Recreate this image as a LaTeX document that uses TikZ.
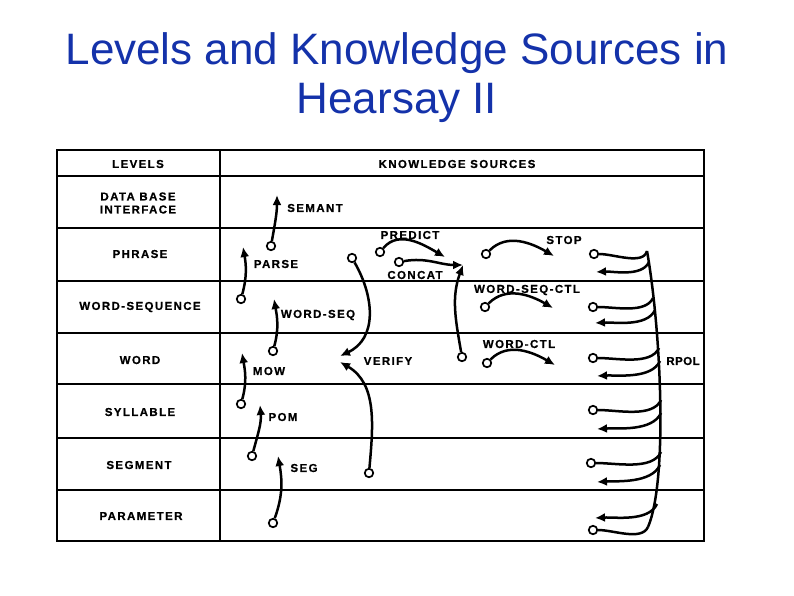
\documentclass[tikz,border=0pt]{standalone}
\usepackage{fontspec}
\usetikzlibrary{arrows.meta}
\newfontfamily\titlefont{Liberation Sans}
\newfontfamily\hsfont[LetterSpace=12, BoldFeatures={FakeBold=0.6}]{Liberation Sans}
\newfontfamily\hstight[LetterSpace=4, BoldFeatures={FakeBold=0.6}]{Liberation Sans}
\definecolor{titleblue}{RGB}{20,50,170}

\begin{document}
\begin{tikzpicture}[
  x=1pt, y=-1pt,
  >={Latex[length=10pt,width=9pt]},
  titletext/.style={font=\titlefont\fontsize{44}{50}\selectfont, text=titleblue, inner sep=0pt},
  hslabel/.style={font=\hsfont\bfseries\fontsize{11.5}{13}\selectfont, inner sep=1pt},
  ksmap/.style={->, draw=black, line width=2.5pt},
  rpline/.style={draw=black, line width=2.5pt},
  ksfoot/.style={circle, draw=black, fill=white, line width=1.7pt, minimum size=8.5pt, inner sep=0pt},
  gridline/.style={draw=black, line width=2.2pt}
]
  \useasboundingbox (0,0) rectangle (794,595);

  % title
  \node[titletext, anchor=base] (title1) at (397,64) {Levels and Knowledge Sources in};
  \node[titletext, anchor=base] (title2) at (397,113) {Hearsay II};

  % table
  \draw[gridline] (57,150) rectangle (704,541);
  \draw[gridline] (220,150) -- (220,541);
  \draw[gridline] (57,176) -- (704,176);
  \draw[gridline] (57,228) -- (704,228);
  \draw[gridline] (57,281) -- (704,281);
  \draw[gridline] (57,333) -- (704,333);
  \draw[gridline] (57,384) -- (704,384);
  \draw[gridline] (57,438) -- (704,438);
  \draw[gridline] (57,490) -- (704,490);

  % levels
  \node[hslabel] (lvHead) at (138,164) {LEVELS};
  \node[hslabel, align=center] (lvDbase) at (138,203) {DATA BASE\\INTERFACE};
  \node[hslabel] (lvPhrase) at (140,254) {PHRASE};
  \node[hslabel] (lvWseq) at (140,307) {WORD-SEQUENCE};
  \node[hslabel] (lvWord) at (140,360) {WORD};
  \node[hslabel] (lvSyl) at (140,412) {SYLLABLE};
  \node[hslabel] (lvSeg) at (139,465) {SEGMENT};
  \node[hslabel] (lvParam) at (141,516) {PARAMETER};

  % knowledge source names
  \node[hslabel] (ksHead) at (457,164) {KNOWLEDGE SOURCES};
  \node[hslabel] (ksSemant) at (315,208) {SEMANT};
  \node[hslabel] (ksParse) at (276,264) {PARSE};
  \node[hslabel] (ksWseq) at (318,315) {WORD-SEQ};
  \node[hslabel] (ksMow) at (269,371) {MOW};
  \node[hslabel] (ksPom) at (283,417) {POM};
  \node[hslabel] (ksSeg) at (304,468) {SEG};
  \node[hslabel] (ksVerify) at (388,361) {VERIFY};
  \node[hslabel] (ksPredict) at (410,235) {PREDICT};
  \node[hslabel] (ksConcat) at (415,275) {CONCAT};
  \node[hslabel] (ksStop) at (564,240) {STOP};
  \node[hslabel] (ksWsctl) at (527,290) {WORD-SEQ-CTL};
  \node[hslabel] (ksWctl) at (519,344) {WORD-CTL};
  \node[hslabel, font=\hstight\bfseries\fontsize{11.5}{13}\selectfont] (ksRpol) at (683,361) {RPOL};

  % feet of the maps
  \node[ksfoot] (tSemant) at (271,246) {};
  \node[ksfoot] (tParse) at (241,299) {};
  \node[ksfoot] (tWseq) at (273,351) {};
  \node[ksfoot] (tMow) at (241,404) {};
  \node[ksfoot] (tPom) at (252,456) {};
  \node[ksfoot] (tSeg) at (273,523) {};
  \node[ksfoot] (tVerA) at (352,258) {};
  \node[ksfoot] (tVerB) at (369,473) {};
  \node[ksfoot] (tPredict) at (380,252) {};
  \node[ksfoot] (tConA) at (399,262) {};
  \node[ksfoot] (tConB) at (462,357) {};
  \node[ksfoot] (tStop) at (486,254) {};
  \node[ksfoot] (tWsctl) at (485,307) {};
  \node[ksfoot] (tWctl) at (487,363) {};

  % arrow heads
  \coordinate (hSemant) at (277,195);
  \coordinate (hParse) at (243,247);
  \coordinate (hWseq) at (274,299);
  \coordinate (hMow) at (242,353);
  \coordinate (hPom) at (260,405);
  \coordinate (hSeg) at (278,456);
  \coordinate (hVerA) at (340,356);
  \coordinate (hVerB) at (340,362);
  \coordinate (hPredict) at (445,257);
  \coordinate (hConcat) at (463,265);
  \coordinate (hStop) at (554,256);
  \coordinate (hWsctl) at (553,308);
  \coordinate (hWctl) at (555,365);

  \draw[ksmap] (tSemant) to[out=80,in=-90] (hSemant);
  \draw[ksmap] (tParse) to[out=75,in=-80] (hParse);
  \draw[ksmap] (tWseq) to[out=75,in=-80] (hWseq);
  \draw[ksmap] (tMow) to[out=75,in=-80] (hMow);
  \draw[ksmap] (tPom) to[out=75,in=-85] (hPom);
  \draw[ksmap] (tSeg) to[out=70,in=-80] (hSeg);
  \draw[ksmap] (tVerA) to[out=-60,in=25,looseness=1.1] (hVerA);
  \draw[ksmap] (tVerB) to[out=85,in=-30] (hVerB);
  \draw[ksmap] (tPredict) to[out=50,in=150] (hPredict);
  \draw[ksmap] (tConA) to[out=10,in=180] (hConcat);
  \draw[ksmap] (tConB) to[out=100,in=-110] (hConcat);
  \draw[ksmap] (tStop) to[out=45,in=150] (hStop);
  \draw[ksmap] (tWsctl) to[out=45,in=150] (hWsctl);
  \draw[ksmap] (tWctl) to[out=45,in=150] (hWctl);

  % RPOL
  \coordinate (rpTop) at (647,251);
  \coordinate (rpBot) at (648,527);
  \draw[rpline] (rpTop) .. controls (661,330) and (668,480) .. (rpBot);
  \coordinate (rpJ2) at (653,298);
  \coordinate (rpJ3) at (659,348);
  \coordinate (rpJ4) at (661,400);
  \coordinate (rpJ5) at (661,452);
  \coordinate (rpA1) at (649,262);
  \coordinate (rpA2) at (655,310);
  \coordinate (rpA3) at (660,361);
  \coordinate (rpA4) at (661,413);
  \coordinate (rpA5) at (660,465);
  \coordinate (rpA6) at (657,504);
  \coordinate (rpH1) at (596,272);
  \coordinate (rpH2) at (595,323);
  \coordinate (rpH3) at (597,376);
  \coordinate (rpH4) at (597,429);
  \coordinate (rpH5) at (597,482);
  \coordinate (rpH6) at (595,518);
  \node[ksfoot] (rpT1) at (594,254) {};
  \node[ksfoot] (rpT2) at (593,307) {};
  \node[ksfoot] (rpT3) at (593,358) {};
  \node[ksfoot] (rpT4) at (593,410) {};
  \node[ksfoot] (rpT5) at (591,463) {};
  \node[ksfoot] (rpT6) at (593,530) {};
  \draw[rpline] (rpT1) to[out=0,in=-105,looseness=0.8] (rpTop);
  \draw[rpline] (rpT2) to[out=0,in=-115,looseness=0.8] (rpJ2);
  \draw[rpline] (rpT3) to[out=0,in=-115,looseness=0.8] (rpJ3);
  \draw[rpline] (rpT4) to[out=0,in=-115,looseness=0.8] (rpJ4);
  \draw[rpline] (rpT5) to[out=0,in=-115,looseness=0.8] (rpJ5);
  \draw[rpline] (rpT6) to[out=0,in=-115,looseness=0.8] (rpBot);
  \draw[ksmap] (rpA1) to[out=-115,in=3,looseness=0.8] (rpH1);
  \draw[ksmap] (rpA2) to[out=-115,in=3,looseness=0.8] (rpH2);
  \draw[ksmap] (rpA3) to[out=-115,in=3,looseness=0.8] (rpH3);
  \draw[ksmap] (rpA4) to[out=-115,in=3,looseness=0.8] (rpH4);
  \draw[ksmap] (rpA5) to[out=-115,in=3,looseness=0.8] (rpH5);
  \draw[ksmap] (rpA6) to[out=-115,in=3,looseness=0.8] (rpH6);
\end{tikzpicture}
\end{document}
